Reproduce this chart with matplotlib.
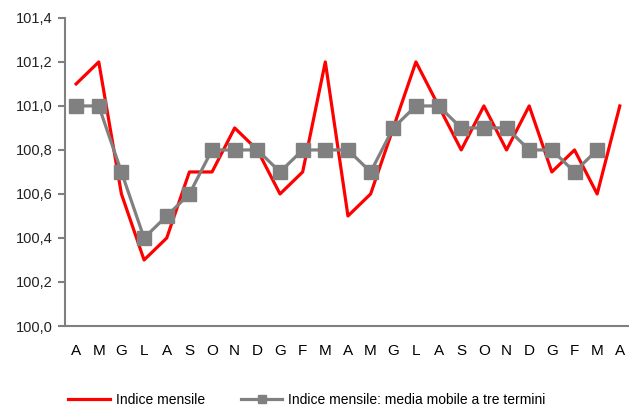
import numpy as np
import matplotlib.pyplot as plt

# dati
mesi = ['A', 'M', 'G', 'L', 'A', 'S', 'O', 'N', 'D', 'G', 'F', 'M',
        'A', 'M', 'G', 'L', 'A', 'S', 'O', 'N', 'D', 'G', 'F', 'M', 'A']
indice = [101.1, 101.2, 100.6, 100.3, 100.4, 100.7, 100.7, 100.9, 100.8, 100.6,
          100.7, 101.2, 100.5, 100.6, 100.9, 101.2, 101.0, 100.8, 101.0, 100.8,
          101.0, 100.7, 100.8, 100.6, 101.0]
media = [101.0, 101.0, 100.7, 100.4, 100.5, 100.6, 100.8, 100.8, 100.8, 100.7,
         100.8, 100.8, 100.8, 100.7, 100.9, 101.0, 101.0, 100.9, 100.9, 100.9,
         100.8, 100.8, 100.7, 100.8]

plt.rcParams['font.family'] = ['Liberation Sans', 'DejaVu Sans']

fig = plt.figure(figsize=(6.29, 4.07), dpi=100)
ax = fig.add_axes([0.103, 0.199, 0.895, 0.757])

x = np.arange(len(mesi))
ax.plot(x, indice, color='#ff0000', lw=2.3, label='Indice mensile', zorder=2)
ax.plot(x[:len(media)], media, color='#808080', lw=2.3, marker='s', markersize=10.5,
        label='Indice mensile: media mobile a tre termini', zorder=3)

ax.set_xlim(-0.5, 24.35)
ax.set_ylim(100.0, 101.4)
ax.set_yticks(np.arange(100.0, 101.41, 0.2))
ax.set_yticklabels([f'{v:.1f}'.replace('.', ',') for v in np.arange(100.0, 101.41, 0.2)],
                   fontsize=10.5)
ax.set_xticks(x)
ax.set_xticklabels(mesi, fontsize=11)

for s in ['top', 'right']:
    ax.spines[s].set_visible(False)
for s in ['left', 'bottom']:
    ax.spines[s].set_color('#808080')
    ax.spines[s].set_linewidth(1.5)
ax.tick_params(axis='y', color='#808080', width=1.5, length=5, colors='#808080',
               labelcolor='#222222')
ax.tick_params(axis='x', length=0, pad=13, labelcolor='#000000')

leg = ax.legend(loc='center', bbox_to_anchor=(0.43, -0.24), ncol=2, frameon=False,
                fontsize=10, handlelength=3.0, columnspacing=2.6, handletextpad=0.4,
                markerscale=0.6)

plt.savefig('out.png', dpi=100)
